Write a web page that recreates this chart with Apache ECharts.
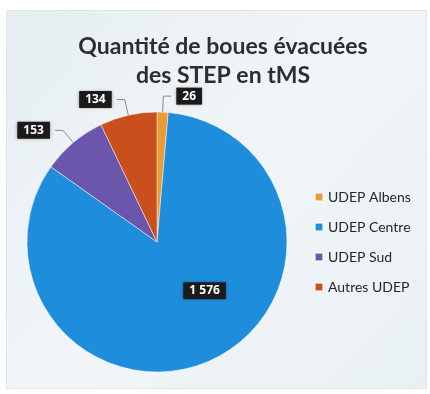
<!DOCTYPE html>
<html>
<head>
<meta charset="utf-8">
<style>
  html, body { margin: 0; padding: 0; background: #ffffff; }
  #chart { width: 430px; height: 394px; }
</style>
<script src="https://cdn.jsdelivr.net/npm/echarts@6/dist/echarts.min.js"></script>
</head>
<body>
<div id="chart"></div>
<script>
// Sludge removed from treatment plants, in tonnes of dry matter
const categories = ['UDEP Albens', 'UDEP Centre', 'UDEP Sud', 'Autres UDEP'];
const values = [26, 1576, 153, 134];
const colors = ['#EC9A34', '#1E8EDC', '#6A56AA', '#CB4F1C'];
const titleLines = ['Quantité de boues évacuées', 'des STEP en tMS'];

// French thousands separator: 1576 -> "1 576"
function fmt(v) {
  return String(v).replace(/\B(?=(\d{3})+(?!\d))/g, ' ');
}

const chart = echarts.init(document.getElementById('chart'), null, { renderer: 'canvas' });

const data = categories.map((name, i) => {
  const item = { name: name, value: values[i], itemStyle: { color: colors[i] } };
  if (name === 'UDEP Centre') {
    item.label = { position: 'inside', offset: [19, -13] };
    item.labelLine = { show: false };
  }
  return item;
});

chart.setOption({
  animation: false,
  graphic: [{
    type: 'rect',
    left: 6, top: 10,
    shape: { width: 420, height: 378 },
    style: {
      fill: {
        type: 'linear', x: 0, y: 0, x2: 1, y2: 1,
        colorStops: [
          { offset: 0, color: '#e6eef1' },
          { offset: 0.5, color: '#f1f5f8' },
          { offset: 1, color: '#e9f0f4' }
        ]
      },
      stroke: '#dfe6ea',
      lineWidth: 1
    },
    z: -10
  }],
  title: {
    text: titleLines.join('\n'),
    left: 218,
    textAlign: 'center',
    top: 27,
    textStyle: {
      fontFamily: 'Lato',
      fontSize: 23,
      fontWeight: 'bold',
      color: '#2e2e2e',
      lineHeight: 29
    }
  },
  legend: {
    orient: 'vertical',
    left: 309,
    top: 185,
    itemWidth: 8,
    itemHeight: 8,
    itemGap: 16,
    icon: 'rect',
    data: categories,
    textStyle: {
      fontFamily: 'Lato',
      fontSize: 14,
      color: '#262626'
    }
  },
  series: [{
    type: 'pie',
    center: [157, 242],
    radius: 130,
    startAngle: 90,
    clockwise: true,
    data: data,
    itemStyle: { borderColor: 'rgba(255,255,255,0.6)', borderWidth: 0.8 },
    label: {
      show: true,
      formatter: p => fmt(p.value),
      color: '#ffffff',
      fontFamily: 'Open Sans',
      fontWeight: 'bold',
      fontSize: 12,
      backgroundColor: '#1b1b1b',
      padding: [3, 6, 2, 6],
      shadowColor: 'rgba(0,0,0,0.4)',
      shadowBlur: 3
    },
    labelLine: {
      show: true,
      length: 16,
      length2: 8,
      lineStyle: { color: '#8a8a8a', width: 1 }
    }
  }]
});
</script>
</body>
</html>
